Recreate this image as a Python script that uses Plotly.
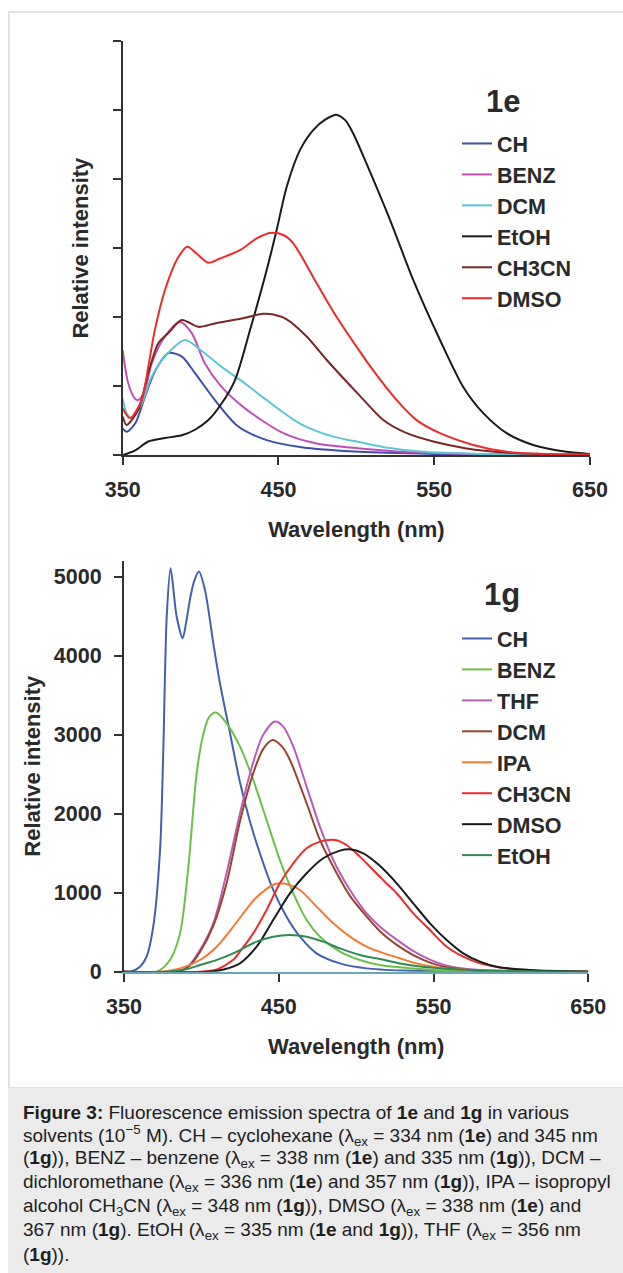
import plotly.graph_objects as go

# ---------------- data: compound 1e (relative units) ----------------
e_ch_x = [350, 352.5, 358, 364.3, 371, 379.3, 388, 396.4, 409.2, 424, 442.4, 463.8, 502, 550, 600, 650]
e_ch_y = [0.39, 0.34, 0.46, 0.85, 1.23, 1.48, 1.43, 1.19, 0.80, 0.42, 0.22, 0.12, 0.05, 0.02, 0.01, 0.0]

e_benz_x = [350, 353.6, 357.9, 360, 364.3, 368.6, 377.1, 386.8, 394.3, 402.8, 413.5, 428.5, 453.1, 474.5, 502.3, 540, 600, 650]
e_benz_y = [1.52, 1.04, 0.82, 0.80, 0.94, 1.33, 1.72, 1.93, 1.77, 1.33, 0.99, 0.68, 0.32, 0.17, 0.10, 0.04, 0.01, 0.0]

e_dcm_x = [350, 352.5, 355.7, 362.2, 368.6, 377.1, 390, 400.7, 413.5, 428.5, 442.4, 463.8, 485.2, 502.3, 520, 543, 580, 650]
e_dcm_y = [0.82, 0.61, 0.54, 0.75, 1.14, 1.43, 1.67, 1.51, 1.28, 1.04, 0.80, 0.46, 0.27, 0.19, 0.11, 0.05, 0.02, 0.0]

e_etoh_x = [350, 358, 366.4, 377.1, 387.9, 396.4, 405, 413.5, 422.1, 431.7, 442.4, 448.8, 455.3, 463.8, 472.3,
            480, 487.5, 493, 498, 506.6, 521.6, 536.5, 553.7, 568.6, 581.5, 596.5, 613.5, 635, 650]
e_etoh_y = [0.0, 0.07, 0.20, 0.25, 0.29, 0.37, 0.51, 0.75, 1.09, 1.81, 2.68, 3.26, 3.89, 4.42, 4.71,
            4.86, 4.93, 4.85, 4.66, 4.22, 3.41, 2.54, 1.67, 0.99, 0.61, 0.32, 0.15, 0.05, 0.02]

e_ch3cn_x = [350, 352.5, 360, 366.4, 372.8, 379.3, 387.9, 398.6, 409.2, 426.4, 440.2, 446.7, 455.3, 468.1,
             481, 502.3, 517.3, 532.3, 549.4, 570.8, 596.5, 620, 650]
e_ch3cn_y = [0.56, 0.44, 0.66, 1.19, 1.62, 1.77, 1.96, 1.86, 1.91, 1.98, 2.05, 2.04, 1.97, 1.72,
             1.38, 0.86, 0.51, 0.32, 0.20, 0.10, 0.04, 0.02, 0.01]

e_dmso_x = [350, 354.7, 362.2, 366.4, 370.7, 377.1, 384.7, 391.5, 397.5, 405, 412.5, 425.3, 436, 444.5,
            453.1, 459.5, 472.3, 485.2, 500.2, 510.8, 525.9, 538.7, 553.7, 575, 596.5, 620, 650]
e_dmso_y = [0.68, 0.54, 0.80, 1.28, 1.82, 2.39, 2.83, 3.02, 2.92, 2.79, 2.85, 2.97, 3.14, 3.22,
            3.19, 3.07, 2.58, 2.08, 1.57, 1.23, 0.80, 0.51, 0.32, 0.15, 0.05, 0.02, 0.01]

# ---------------- data: compound 1g (relative intensity) ----------------
g_ch_x = [350, 353.9, 360.3, 364.6, 368.9, 373.3, 375.4, 377.6, 380.1, 384, 387.9, 390, 393, 395.5, 398.4,
          402.3, 407.7, 412, 418.5, 424.9, 431.4, 437.8, 446.4, 455, 463.7, 474.4, 489.5, 506.7, 530, 570, 650]
g_ch_y = [0, 0, 63, 190, 570, 1540, 2806, 4494, 5105, 4494, 4219, 4400, 4750, 4950, 5063,
          4831, 4156, 3650, 3017, 2400, 1900, 1498, 1034, 696, 443, 232, 105, 42, 15, 5, 0]

g_benz_x = [350, 371, 379.7, 386.2, 391.6, 396.9, 401.2, 405, 409.4, 416.3, 424.9, 433.5, 442.1, 450.7, 459.4,
            468, 476.6, 489.5, 502.4, 515.3, 528.3, 550, 580, 650]
g_benz_y = [0, 0, 148, 485, 1329, 2500, 3000, 3220, 3278, 3143, 2850, 2426, 1920, 1413, 992,
            654, 443, 253, 148, 84, 55, 20, 5, 0]

g_thf_x = [350, 385, 392, 399.1, 407.7, 416.3, 424.9, 433.5, 440, 447.5, 452.9, 459.4, 468, 476.6, 485.2,
           496, 506.7, 516, 528, 537, 548, 558, 580, 650]
g_thf_y = [0, 0, 80, 274, 612, 1250, 2000, 2650, 3000, 3165, 3101, 2848, 2342, 1835, 1413,
           1034, 740, 560, 380, 260, 150, 80, 20, 0]

g_dcm_x = [350, 385, 392, 399.1, 407.7, 416.3, 424.9, 433.5, 440, 446, 452, 457.2, 468, 476.6, 485.2,
           496, 506.7, 516, 526.2, 536.9, 547.7, 558.5, 580, 650]
g_dcm_y = [0, 0, 70, 250, 580, 1120, 1900, 2511, 2820, 2932, 2850, 2679, 2131, 1667, 1329,
           960, 700, 500, 340, 210, 115, 55, 12, 0]

g_ipa_x = [350, 373, 386.2, 399.1, 409.9, 420.6, 435, 446.4, 450.5, 455, 463.7, 474.4, 485.2, 496, 506.7,
           517.5, 528.3, 536.9, 547.7, 558.5, 580, 610, 650]
g_ipa_y = [0, 0, 42, 148, 316, 570, 930, 1100, 1120, 1110, 1034, 823, 612, 443, 316,
           235, 170, 115, 70, 40, 15, 3, 0]

g_ch3cn_x = [350, 399, 410, 420.6, 424.9, 433.5, 442.1, 450.7, 459.4, 468, 476.6, 486.3, 493.8, 502.4, 511,
             519.6, 526.2, 536.9, 547.7, 558.5, 569.2, 580, 601.5, 623, 650]
g_ch3cn_y = [0, 0, 30, 150, 253, 485, 781, 1118, 1371, 1561, 1646, 1667, 1603, 1456, 1287,
             1118, 992, 738, 527, 316, 190, 105, 30, 8, 0]

g_dmso_x = [350, 405, 415, 424.9, 435.7, 446.4, 457.2, 468, 478.7, 489.5, 496, 504.6, 515.3, 526.2, 536.9,
            547.7, 558.5, 569.2, 580, 590.8, 612.3, 650]
g_dmso_y = [0, 0, 30, 105, 316, 654, 992, 1245, 1435, 1532, 1549, 1498, 1340, 1118, 865,
            612, 401, 232, 127, 63, 21, 0]

g_etoh_x = [350, 377.6, 390, 399.1, 410, 420.6, 424.9, 435.7, 446.4, 457.2, 468, 478.7, 489.5, 502.4, 515.3,
            528.3, 550, 575, 610, 650]
g_etoh_y = [0, 0, 30, 84, 150, 232, 274, 380, 443, 464, 443, 380, 295, 211, 160,
            105, 50, 20, 5, 0]

x_ticks = [350, 450, 550, 650]
g_y_ticks = [0, 1000, 2000, 3000, 4000, 5000]
e_y_ticks = [0, 1, 2, 3, 4, 5, 6]

caption_lines = [
    "<b>Figure 3:</b> Fluorescence emission spectra of <b>1e</b> and <b>1g</b> in various",
    "solvents (10<sup>−5</sup> M). CH – cyclohexane (λ<sub>ex</sub> = 334 nm (<b>1e</b>) and 345 nm",
    "(<b>1g</b>)), BENZ – benzene (λ<sub>ex</sub> = 338 nm (<b>1e</b>) and 335 nm (<b>1g</b>)), DCM –",
    "dichloromethane (λ<sub>ex</sub> = 336 nm (<b>1e</b>) and 357 nm (<b>1g</b>)), IPA – isopropyl",
    "alcohol CH<sub>3</sub>CN (λ<sub>ex</sub> = 348 nm (<b>1g</b>)), DMSO (λ<sub>ex</sub> = 338 nm (<b>1e</b>) and",
    "367 nm (<b>1g</b>). EtOH (λ<sub>ex</sub> = 335 nm (<b>1e</b> and <b>1g</b>)), THF (λ<sub>ex</sub> = 356 nm",
    "(<b>1g</b>)).",
]

# ---------------- figure ----------------
W, H = 623, 1273
FONT = "Liberation Sans, Arial, sans-serif"
TXT = "#2a2a2a"


def px(x):
    return x / W


def py(y):
    return 1 - y / H


top_series = [
    ("CH", e_ch_x, e_ch_y, "#3d4ea6"),
    ("BENZ", e_benz_x, e_benz_y, "#c04fb4"),
    ("DCM", e_dcm_x, e_dcm_y, "#5cc6d6"),
    ("EtOH", e_etoh_x, e_etoh_y, "#1a1a1a"),
    ("CH3CN", e_ch3cn_x, e_ch3cn_y, "#7a2626"),
    ("DMSO", e_dmso_x, e_dmso_y, "#ee2b2b"),
]
bot_series = [
    ("CH", g_ch_x, g_ch_y, "#4260b0"),
    ("BENZ", g_benz_x, g_benz_y, "#6cc04a"),
    ("THF", g_thf_x, g_thf_y, "#bd5cb5"),
    ("DCM", g_dcm_x, g_dcm_y, "#964430"),
    ("IPA", g_ipa_x, g_ipa_y, "#f47a32"),
    ("CH3CN", g_ch3cn_x, g_ch3cn_y, "#ee2b2b"),
    ("DMSO", g_dmso_x, g_dmso_y, "#1a1a1a"),
    ("EtOH", g_etoh_x, g_etoh_y, "#2e8b50"),
]

fig = go.Figure()
for i, (name, xs, ys, col) in enumerate(top_series):
    fig.add_trace(go.Scatter(x=xs, y=ys, mode="lines", name=name, xaxis="x", yaxis="y",
                             line=dict(color=col, width=2, shape="spline", smoothing=0.8),
                             legend="legend", legendgroup="t%d" % i))
for i, (name, xs, ys, col) in enumerate(bot_series):
    fig.add_trace(go.Scatter(x=xs, y=ys, mode="lines", name=name, xaxis="x2", yaxis="y2",
                             line=dict(color=col, width=2, shape="spline", smoothing=0.8),
                             legend="legend2", legendgroup="b%d" % i))

tickfont = dict(family=FONT, size=21.5, color=TXT, weight="bold")
titlefont = dict(family=FONT, size=22, color=TXT, weight="bold")
legfont = dict(family=FONT, size=21.5, color=TXT, weight="bold")

xcommon = dict(range=[350, 650], tickvals=x_ticks, ticks="outside", ticklen=8, tickwidth=2,
               tickcolor="#333", showline=True, linewidth=2, linecolor="#333", showgrid=False,
               zeroline=False, tickfont=tickfont, ticklabelstandoff=6, automargin=False,
               title=dict(text="Wavelength (nm)", font=titlefont, standoff=21))

fig.update_layout(
    width=W, height=H, margin=dict(l=0, r=0, t=0, b=0),
    paper_bgcolor="white", plot_bgcolor="rgba(0,0,0,0)",
    font=dict(family=FONT, color=TXT),
    xaxis=dict(domain=[px(122.7), px(590)], anchor="y", **xcommon),
    yaxis=dict(domain=[py(455.3), py(41)], anchor="x", range=[0, 6], tickvals=e_y_ticks,
               showticklabels=False, ticks="outside", ticklen=8, tickwidth=2, tickcolor="#333",
               showline=True, linewidth=2, linecolor="#333", showgrid=False, zeroline=False,
               automargin=False,
               title=dict(text="Relative intensity", font=titlefont, standoff=18)),
    xaxis2=dict(domain=[px(124), px(588.3)], anchor="y2", **xcommon),
    yaxis2=dict(domain=[py(971.7), py(560.7)], anchor="x2", range=[0, 5200], tickvals=g_y_ticks,
                ticks="outside", ticklen=8, tickwidth=2, tickcolor="#333",
                showline=True, linewidth=2, linecolor="#333", showgrid=False, zeroline=False,
                tickfont=tickfont, ticklabelstandoff=8, automargin=False,
                title=dict(text="Relative intensity", font=titlefont, standoff=7)),
    legend=dict(x=px(457), y=py(123), xanchor="left", yanchor="top", bgcolor="rgba(0,0,0,0)",
                font=legfont, traceorder="grouped", tracegroupgap=0, itemwidth=30),
    legend2=dict(x=px(457), y=py(618), xanchor="left", yanchor="top", bgcolor="rgba(0,0,0,0)",
                 font=legfont, traceorder="grouped", tracegroupgap=0, itemwidth=30),
    showlegend=True,
)
# teal baseline along x-axis of the lower chart
fig.layout.xaxis2.linecolor = "#6aa8b8"

# frame and caption box
fig.add_shape(type="rect", xref="paper", yref="paper", x0=px(9), x1=1.05, y0=py(1088), y1=py(12),
              line=dict(color="#d9d9d9", width=1.5), fillcolor="rgba(0,0,0,0)", layer="below")
fig.add_shape(type="rect", xref="paper", yref="paper", x0=px(8), x1=1.05, y0=-0.05, y1=py(1088),
              line=dict(width=0), fillcolor="#ebebeb", layer="below")

fig.add_annotation(x=px(503), y=py(102), xref="paper", yref="paper", xanchor="center", yanchor="middle",
                   text="1e", showarrow=False,
                   font=dict(family=FONT, size=31, color=TXT, weight="bold"))
fig.add_annotation(x=px(502), y=py(595), xref="paper", yref="paper", xanchor="center", yanchor="middle",
                   text="1g", showarrow=False,
                   font=dict(family=FONT, size=31, color=TXT, weight="bold"))

for k, line in enumerate(caption_lines):
    fig.add_annotation(x=px(21), y=py(1112 + 23.7 * k), xref="paper", yref="paper",
                       xanchor="left", yanchor="middle", align="left", text=line, showarrow=False,
                       font=dict(family=FONT, size=19, color="#1e1e1e"))

fig.write_html("out.html")
